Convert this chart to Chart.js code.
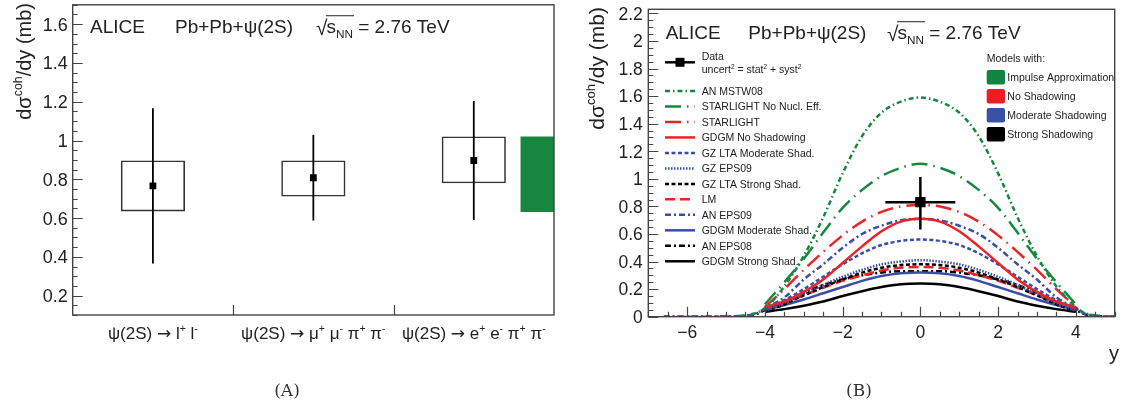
<!DOCTYPE html>
<html>
<head>
<meta charset="utf-8">
<script src="https://cdn.jsdelivr.net/npm/chart.js@4/dist/chart.umd.min.js"></script>
<style>
	html, body { margin: 0; padding: 0; background: #fff; width: 1122px; height: 409px; overflow: hidden; }
	#wrapA { position: absolute; left: 0; top: 0; width: 570px; height: 409px; }
	#wrapB { position: absolute; left: 570px; top: 0; width: 552px; height: 409px; }
</style>
</head>
<body>
<div id="wrapA"><canvas id="chartA" width="570" height="409"></canvas></div>
<div id="wrapB"><canvas id="chartB" width="552" height="409"></canvas></div>
<script>
'use strict'

// ---- panel A: cross section per decay channel ----
const channels = ['ψ(2S) → l^{+} l^{-}', 'ψ(2S) → μ^{+} μ^{-} π^{+} π^{-}', 'ψ(2S) → e^{+} e^{-} π^{+} π^{-}'];
const channelPos = [0, 1, 2];
const channelXsec = [0.766, 0.808, 0.897];
const channelStatLow = [0.366, 0.587, 0.590];
const channelStatHigh = [1.166, 1.030, 1.204];
const channelSystLow = [0.634, 0.711, 0.779];
const channelSystHigh = [0.897, 0.897, 1.021];
const iaBandX = [2.29, 2.5];
const iaBandY = [0.631, 1.021];
const yTicksA = [0.2, 0.4, 0.6, 0.8, 1, 1.2, 1.4, 1.6];
const yLabelsA = ['0.2', '0.4', '0.6', '0.8', '1', '1.2', '1.4', '1.6'];

// ---- panel B: rapidity dependence, data vs models ----
const rapidity = [-4, -3.5, -3, -2.5, -2, -1.5, -1, -0.5, 0, 0.5, 1, 1.5, 2, 2.5, 3, 3.5, 4];
const rapidityWide = [-6.6, -6, -5.5, -5, -4.5, -4.2, -4, -3.5, -3, -2.5, -2, -1.5, -1, -0.5, 0, 0.5, 1, 1.5, 2, 2.5, 3, 3.5, 4, 4.2, 4.5, 5];
const anMstw08 = [0, 0, 0, 0.002, 0.01, 0.03, 0.06, 0.22, 0.44, 0.72, 1.04, 1.31, 1.48, 1.56, 1.59, 1.56, 1.48, 1.31, 1.04, 0.72, 0.44, 0.22, 0.07, 0.03, 0.01, 0];
const starlightNoNucl = [0.09, 0.25, 0.42, 0.61, 0.79, 0.92, 1.02, 1.08, 1.11, 1.08, 1.02, 0.92, 0.79, 0.61, 0.42, 0.25, 0.09];
const starlight = [0.07, 0.2, 0.34, 0.47, 0.59, 0.69, 0.76, 0.8, 0.81, 0.8, 0.76, 0.69, 0.59, 0.47, 0.34, 0.2, 0.07];
const gdgmNoShad = [0.07, 0.11, 0.18, 0.27, 0.39, 0.51, 0.62, 0.69, 0.71, 0.69, 0.62, 0.51, 0.39, 0.27, 0.18, 0.11, 0.07];
const gzLtaModerate = [0.05, 0.12, 0.2, 0.29, 0.38, 0.46, 0.52, 0.55, 0.56, 0.55, 0.52, 0.46, 0.38, 0.29, 0.2, 0.12, 0.05];
const gzEps09 = [0.04, 0.1, 0.165, 0.23, 0.29, 0.34, 0.38, 0.4, 0.41, 0.4, 0.38, 0.34, 0.29, 0.23, 0.165, 0.1, 0.04];
const gzLtaStrong = [0.035, 0.09, 0.155, 0.215, 0.27, 0.32, 0.355, 0.375, 0.38, 0.375, 0.355, 0.32, 0.27, 0.215, 0.155, 0.09, 0.035];
const lm = [0.06, 0.1, 0.155, 0.21, 0.26, 0.3, 0.335, 0.355, 0.36, 0.355, 0.335, 0.3, 0.26, 0.21, 0.155, 0.1, 0.06];
const anEps09 = [0, 0, 0, 0.002, 0.008, 0.025, 0.06, 0.14, 0.27, 0.38, 0.5, 0.6, 0.66, 0.7, 0.71, 0.7, 0.66, 0.6, 0.5, 0.38, 0.27, 0.14, 0.06, 0.025, 0.008, 0];
const gdgmModerate = [0.05, 0.085, 0.125, 0.17, 0.215, 0.26, 0.295, 0.315, 0.32, 0.315, 0.295, 0.26, 0.215, 0.17, 0.125, 0.085, 0.05];
const anEps08 = [0, 0, 0, 0.001, 0.006, 0.02, 0.05, 0.11, 0.175, 0.23, 0.27, 0.3, 0.32, 0.33, 0.33, 0.33, 0.32, 0.3, 0.27, 0.23, 0.175, 0.11, 0.05, 0.02, 0.006, 0];
const gdgmStrong = [0.035, 0.055, 0.08, 0.11, 0.15, 0.185, 0.215, 0.235, 0.24, 0.235, 0.215, 0.185, 0.15, 0.11, 0.08, 0.055, 0.035];

const dataY = [0];
const dataXsec = [0.831];
const dataErrLow = [0.633];
const dataErrHigh = [1.014];
const dataBinLow = [-0.9];
const dataBinHigh = [0.9];

const yTicksB = [0, 0.2, 0.4, 0.6, 0.8, 1, 1.2, 1.4, 1.6, 1.8, 2, 2.2];
const yLabelsB = ['0', '0.2', '0.4', '0.6', '0.8', '1', '1.2', '1.4', '1.6', '1.8', '2', '2.2'];
const xTicksB = [-6, -4, -2, 0, 2, 4];
const xLabelsB = ['−6', '−4', '−2', '0', '2', '4'];

const shadowingClasses = ['Impulse Approximation', 'No Shadowing', 'Moderate Shadowing', 'Strong Shadowing'];

const GREEN = '#17873f';
const RED = '#eb2328';
const BLUE = '#3a4ea6';
const BLACK = '#000';
const FONT = '"Liberation Sans", Arial, Helvetica, sans-serif';
const SYMFONT = '"DejaVu Sans", sans-serif';

const models = [
	{ label: 'AN MSTW08', xs: rapidityWide, ys: anMstw08, color: GREEN, dash: [5, 3, 1.5, 3] },
	{ label: 'STARLIGHT No Nucl. Eff.', xs: rapidity, ys: starlightNoNucl, color: GREEN, dash: [16, 6, 1.5, 6] },
	{ label: 'STARLIGHT', xs: rapidity, ys: starlight, color: RED, dash: [16, 6, 1.5, 6] },
	{ label: 'GDGM No Shadowing', xs: rapidity, ys: gdgmNoShad, color: RED, dash: [] },
	{ label: 'GZ LTA Moderate Shad.', xs: rapidity, ys: gzLtaModerate, color: BLUE, dash: [4, 2.5] },
	{ label: 'GZ EPS09', xs: rapidity, ys: gzEps09, color: BLUE, dash: [1.5, 1.5] },
	{ label: 'GZ LTA Strong Shad.', xs: rapidity, ys: gzLtaStrong, color: BLACK, dash: [4, 2.5] },
	{ label: 'LM', xs: rapidity, ys: lm, color: RED, dash: [10, 5] },
	{ label: 'AN EPS09', xs: rapidityWide, ys: anEps09, color: BLUE, dash: [6, 3, 2, 3] },
	{ label: 'GDGM Moderate Shad.', xs: rapidity, ys: gdgmModerate, color: BLUE, dash: [] },
	{ label: 'AN EPS08', xs: rapidityWide, ys: anEps08, color: BLACK, dash: [6, 3, 2, 3] },
	{ label: 'GDGM Strong Shad.', xs: rapidity, ys: gdgmStrong, color: BLACK, dash: [] },
];
const classColors = ['#13843f', '#ee1d25', '#3953a4', '#000'];

// --- little TLatex-ish text helper: ^{..} superscript, _{..} subscript ---
function parseRich(str) {
	const parts = [];
	let buf = '';
	let i = 0;
	while (i < str.length) {
		const c = str[i];
		if ((c === '^' || c === '_') && str[i + 1] === '{') {
			if (buf) { parts.push({ text: buf, kind: 'n' }); buf = ''; }
			const end = str.indexOf('}', i);
			parts.push({ text: str.slice(i + 2, end), kind: c === '^' ? 'sup' : 'sub' });
			i = end + 1;
		} else if (c === '→') {
			if (buf) { parts.push({ text: buf, kind: 'n' }); buf = ''; }
			parts.push({ text: c, kind: 'sym' });
			i++;
		} else {
			buf += c;
			i++;
		}
	}
	if (buf) parts.push({ text: buf, kind: 'n' });
	return parts;
}

function setPartFont(ctx, p, size) {
	if (p.kind === 'n') ctx.font = size + 'px ' + FONT;
	else if (p.kind === 'sym') ctx.font = size + 'px ' + SYMFONT;
	else ctx.font = (size * 0.62) + 'px ' + FONT;
}

function drawRich(ctx, str, x, y, size, align, color) {
	const parts = parseRich(str);
	let w = 0;
	parts.forEach(p => {
		setPartFont(ctx, p, size);
		w += ctx.measureText(p.text).width;
	});
	let cx = align === 'center' ? x - w / 2 : align === 'right' ? x - w : x;
	ctx.fillStyle = color || '#222';
	ctx.textAlign = 'left';
	ctx.textBaseline = 'alphabetic';
	parts.forEach(p => {
		setPartFont(ctx, p, size);
		let dy = 0;
		if (p.kind === 'sup') dy = -size * 0.42;
		if (p.kind === 'sub') dy = size * 0.25;
		ctx.fillText(p.text, cx, y + dy);
		cx += ctx.measureText(p.text).width;
	});
	return cx;
}

function drawHeader(ctx, x0, x1, x2, yc, size) {
	const base = yc + size * 0.36;
	drawRich(ctx, 'ALICE', x0, base, size, 'left');
	drawRich(ctx, 'Pb+Pb+ψ(2S)', x1, base, size, 'left');
	ctx.font = (size * 1.1) + 'px ' + FONT;
	ctx.fillText('√', x2, base + 2);
	const rw = ctx.measureText('√').width;
	const sEnd = drawRich(ctx, 's_{NN}', x2 + rw - 1, base, size, 'left');
	ctx.strokeStyle = '#222';
	ctx.lineWidth = 1;
	ctx.setLineDash([]);
	ctx.beginPath();
	ctx.moveTo(x2 + rw - 1.5, base - size * 0.9);
	ctx.lineTo(sEnd + 1, base - size * 0.9);
	ctx.stroke();
	drawRich(ctx, ' = 2.76 TeV', sEnd, base, size, 'left');
}

function drawYTitle(ctx, cx, topY, size) {
	ctx.save();
	ctx.translate(cx + size * 0.33, topY);
	ctx.rotate(-Math.PI / 2);
	drawRich(ctx, 'dσ^{coh}/dy (mb)', 0, 0, size, 'right');
	ctx.restore();
}

function drawCaption(ctx, text, x, y) {
	ctx.font = '17px "DejaVu Serif", "Liberation Serif", serif';
	ctx.fillStyle = '#333';
	ctx.textAlign = 'center';
	ctx.textBaseline = 'middle';
	ctx.fillText(text, x, y);
}

const panelAPlugin = {
	id: 'panelA',
	afterDraw(chart) {
		const { ctx, chartArea: a, scales: { x, y } } = chart;
		ctx.save();
		ctx.setLineDash([]);
		ctx.strokeStyle = '#444';
		ctx.lineWidth = 1.4;
		ctx.strokeRect(a.left, a.top, a.right - a.left, a.bottom - a.top);

		ctx.lineWidth = 1.2;
		ctx.beginPath();
		for (let k = 2; k <= 34; k++) {
			const v = k * 0.05;
			const py = Math.round(y.getPixelForValue(v)) + 0.5;
			const major = yTicksA.some(t => Math.abs(t - v) < 1e-6);
			ctx.moveTo(a.left, py);
			ctx.lineTo(a.left + (major ? 10 : 5), py);
		}
		for (let i = 0; i < channelPos.length - 1; i++) {
			const px = Math.round(x.getPixelForValue((channelPos[i] + channelPos[i + 1]) / 2)) + 0.5;
			ctx.moveTo(px, a.bottom);
			ctx.lineTo(px, a.bottom - 10);
		}
		ctx.stroke();

		yTicksA.forEach((v, i) => drawRich(ctx, yLabelsA[i], a.left - 5, y.getPixelForValue(v) + 6.5, 18, 'right'));
		channels.forEach((c, i) => drawRich(ctx, c, x.getPixelForValue(channelPos[i]), 339, 17, 'center'));

		drawYTitle(ctx, 24, 3, 20);
		drawHeader(ctx, 90, 175, 316, 26, 19);
		drawCaption(ctx, '(A)', 287, 392);
		ctx.restore();
	}
};

const panelBPlugin = {
	id: 'panelB',
	afterDraw(chart) {
		const { ctx, chartArea: a, scales: { x, y } } = chart;
		ctx.save();
		ctx.setLineDash([]);
		ctx.strokeStyle = '#444';
		ctx.lineWidth = 1.4;
		ctx.strokeRect(a.left, a.top, a.right - a.left, a.bottom - a.top);

		ctx.lineWidth = 1.2;
		ctx.beginPath();
		for (let k = 0; k <= 44; k++) {
			const v = k * 0.05;
			const py = Math.round(y.getPixelForValue(v)) + 0.5;
			const major = yTicksB.some(t => Math.abs(t - v) < 1e-6);
			ctx.moveTo(a.left, py);
			ctx.lineTo(a.left + (major ? 10 : 5), py);
		}
		for (let k = -14; k <= 10; k++) {
			const v = k * 0.5;
			const px = Math.round(x.getPixelForValue(v)) + 0.5;
			const major = xTicksB.includes(v);
			ctx.moveTo(px, a.bottom);
			ctx.lineTo(px, a.bottom - (major ? 10 : 5));
		}
		ctx.stroke();

		yTicksB.forEach((v, i) => drawRich(ctx, yLabelsB[i], a.left - 5.5, y.getPixelForValue(v) + 6.3, 17.5, 'right'));
		xTicksB.forEach((v, i) => drawRich(ctx, xLabelsB[i], x.getPixelForValue(v), 337.5, 17.5, 'center'));
		drawRich(ctx, 'y', 544, 360, 20, 'center');

		drawYTitle(ctx, 27, 7, 21);
		drawHeader(ctx, 95.7, 178.3, 317, 32, 19);

		// legend: data + models
		ctx.strokeStyle = BLACK;
		ctx.lineWidth = 2.5;
		ctx.beginPath();
		ctx.moveTo(95, 62.3);
		ctx.lineTo(125, 62.3);
		ctx.stroke();
		ctx.fillStyle = BLACK;
		ctx.fillRect(105.5, 57.8, 9, 9);
		drawRich(ctx, 'Data', 131.7, 59.5, 10.5, 'left');
		drawRich(ctx, 'uncert^{2} = stat^{2} + syst^{2}', 131.7, 73, 10.5, 'left');

		models.forEach((m, i) => {
			const ry = 91 + i * 15.48;
			ctx.strokeStyle = m.color;
			ctx.lineWidth = 2.5;
			ctx.setLineDash(m.dash);
			ctx.beginPath();
			ctx.moveTo(95, ry);
			ctx.lineTo(125, ry);
			ctx.stroke();
			ctx.setLineDash([]);
			drawRich(ctx, m.label, 131.7, ry + 3.8, 10.5, 'left');
		});

		drawRich(ctx, 'Models with:', 416.7, 62, 10.5, 'left');
		shadowingClasses.forEach((c, i) => {
			const ry = 77.3 + i * 19;
			ctx.fillStyle = classColors[i];
			ctx.beginPath();
			ctx.roundRect(416.7, ry - 7.2, 18.3, 14.4, 2);
			ctx.fill();
			drawRich(ctx, c, 437.3, ry + 3.8, 10.5, 'left');
		});

		drawCaption(ctx, '(B)', 289, 392);
		ctx.restore();
	}
};

// ---- chart A ----
const errA = [];
channelPos.forEach((x, i) => {
	errA.push({ x: x, y: channelStatLow[i] }, { x: x, y: channelStatHigh[i] }, { x: x, y: null });
});

new Chart(document.getElementById('chartA'), {
	type: 'bar',
	data: {
		datasets: [
			{
				type: 'scatter',
				data: channelPos.map((x, i) => ({ x: x, y: channelXsec[i] })),
				pointStyle: 'rect',
				pointRadius: 4.8,
				backgroundColor: '#000',
				borderWidth: 0,
				order: 0,
			},
			{
				type: 'line',
				data: errA,
				borderColor: '#000',
				borderWidth: 1.8,
				pointRadius: 0,
				spanGaps: false,
				order: 1,
			},
			{
				type: 'bar',
				data: channelPos.map((x, i) => ({ x: x, y: [channelSystLow[i], channelSystHigh[i]] })),
				backgroundColor: 'rgba(0,0,0,0)',
				borderColor: '#333',
				borderWidth: 1.6,
				borderSkipped: false,
				barPercentage: 0.4,
				categoryPercentage: 1,
				order: 2,
			},
			{
				type: 'line',
				data: iaBandX.map(x => ({ x: x, y: iaBandY[1] })),
				borderColor: 'rgba(0,0,0,0)',
				pointRadius: 0,
				fill: false,
				order: 3,
			},
			{
				type: 'line',
				data: iaBandX.map(x => ({ x: x, y: iaBandY[0] })),
				borderColor: 'rgba(0,0,0,0)',
				backgroundColor: GREEN,
				pointRadius: 0,
				fill: '-1',
				order: 3,
			},
		],
	},
	options: {
		responsive: false,
		animation: false,
		devicePixelRatio: 1,
		layout: { padding: { left: 72.7, right: 16, top: 3, bottom: 94 } },
		plugins: { legend: { display: false }, tooltip: { enabled: false } },
		scales: {
			x: {
				type: 'linear', min: -0.5, max: 2.5, offset: false, display: false,
				afterBuildTicks: (s) => { s.ticks = channelPos.map(v => ({ value: v })) },
			},
			y: { type: 'linear', min: 0.1, max: 1.7, display: false },
		},
	},
	plugins: [panelAPlugin],
});

// ---- chart B ----
const errB = [];
dataY.forEach((x, i) => {
	errB.push({ x: x, y: dataErrLow[i] }, { x: x, y: dataErrHigh[i] }, { x: x, y: null });
	errB.push({ x: dataBinLow[i], y: dataXsec[i] }, { x: dataBinHigh[i], y: dataXsec[i] }, { x: dataBinHigh[i], y: null });
});

const modelSets = models.map(m => ({
	type: 'line',
	label: m.label,
	data: m.xs.map((x, i) => ({ x: x, y: m.ys[i] })),
	borderColor: m.color,
	borderDash: m.dash,
	borderWidth: 2.5,
	pointRadius: 0,
	cubicInterpolationMode: 'monotone',
	fill: false,
	order: 2,
}));

new Chart(document.getElementById('chartB'), {
	type: 'line',
	data: {
		datasets: [
			{
				type: 'scatter',
				data: dataY.map((x, i) => ({ x: x, y: dataXsec[i] })),
				pointStyle: 'rect',
				pointRadius: 7.3,
				backgroundColor: '#000',
				borderWidth: 0,
				order: 0,
			},
			{
				type: 'line',
				data: errB,
				borderColor: '#000',
				borderWidth: 2.5,
				pointRadius: 0,
				spanGaps: false,
				order: 1,
			},
			...modelSets,
		],
	},
	options: {
		responsive: false,
		animation: false,
		devicePixelRatio: 1,
		layout: { padding: { left: 78.3, right: 2, top: 9.3, bottom: 92.3 } },
		plugins: { legend: { display: false }, tooltip: { enabled: false } },
		scales: {
			x: { type: 'linear', min: -7, max: 5, offset: false, display: false },
			y: { type: 'linear', min: 0, max: 2.23, display: false },
		},
	},
	plugins: [panelBPlugin],
});
</script>
</body>
</html>
